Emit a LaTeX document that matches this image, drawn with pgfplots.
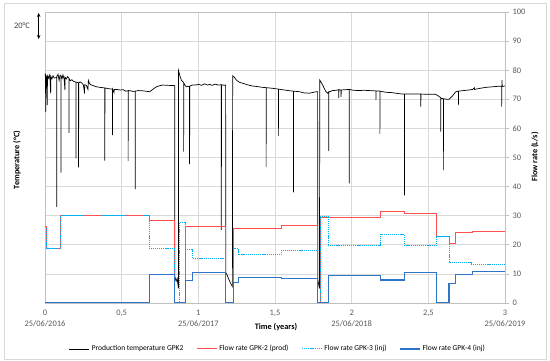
\documentclass[border=0pt]{standalone}
\usepackage{fontspec}
\setmainfont{Carlito}
\usepackage{pgfplots}
\pgfplotsset{compat=1.18}
\usetikzlibrary{arrows.meta}
\definecolor{cred}{RGB}{255,80,80}
\definecolor{ccyan}{RGB}{0,176,240}
\definecolor{cblue}{RGB}{46,117,200}
\definecolor{cgrid}{RGB}{217,217,217}
\definecolor{caxis}{RGB}{191,191,191}
\definecolor{ctext}{RGB}{89,89,89}
\begin{document}
\begin{tikzpicture}
\useasboundingbox (0,0) rectangle (550pt,361pt);
\draw[cgrid, line width=0.6pt] (4pt,2pt) rectangle (546pt,358pt);
\begin{axis}[
  at={(45pt,58pt)}, anchor=south west,
  scale only axis, width=460pt, height=291pt,
  xmin=0, xmax=3, ymin=0, ymax=100,
  xtick={0,0.5,1,1.5,2,2.5,3},
  xticklabels={{0\\25/06/2016},{0,5},{1\\25/06/2017},{1,5},{2\\25/06/2018},{2,5},{3\\25/06/2019}},
  xticklabel style={align=center, font=\fontsize{8.4}{11}\selectfont, text=ctext},
  ytick={0,10,...,100},
  yticklabel pos=right,
  yticklabel style={font=\fontsize{8.4}{10}\selectfont, text=ctext},
  /pgf/number format/assume math mode=true,
  xtick style={draw=none},
  ytick pos=right,
  ytick style={caxis, line width=0.6pt},
  tick align=outside, major tick length=4pt,
  grid=major, grid style={cgrid, line width=0.6pt},
  axis line style={caxis, line width=0.6pt},
  legend style={at={(0.5065,-0.158)}, anchor=center, draw=none, fill=none,
    legend columns=4, font=\fontsize{7.5}{9}\selectfont,
    /tikz/every even column/.append style={column sep=11pt}},
  legend cell align=left,
  legend image code/.code={\draw[#1] (0pt,0pt) -- (20pt,0pt);},
]
% Production temperature GPK2 (plotted on the flow-rate scale)
\addplot[black, line width=0.7pt] coordinates {
(0.000,78.7) (0.003,77.5) (0.005,65.7) (0.006,78.2) (0.010,77.6) (0.015,68) (0.016,78.0) (0.022,77.2) (0.028,78.3) (0.033,76.8) (0.037,72) (0.038,77.9) (0.045,77.0) (0.052,78.1) (0.060,77.3) (0.076,77.5) (0.076,33) (0.077,77.8) (0.085,78.6) (0.092,76.5) (0.098,78.2) (0.104,78.0) (0.104,44.8) (0.105,78.0) (0.112,77.2) (0.117,78.4) (0.125,76.9) (0.130,73.2) (0.131,77.6) (0.140,77.0) (0.148,77.8) (0.156,77.2) (0.156,58.5) (0.157,77.1) (0.165,76.4) (0.175,76.7) (0.185,76.2) (0.195,76.0) (0.202,75.9) (0.202,49.7) (0.203,75.9) (0.210,75.8) (0.219,75.7) (0.219,46.6) (0.220,75.6) (0.228,76.0) (0.240,75.6) (0.250,75.0) (0.258,72.0) (0.259,75.0) (0.270,74.8) (0.280,73.4) (0.283,76.5) (0.290,75.5) (0.300,75.0) (0.320,74.6) (0.336,74.3) (0.360,74.1) (0.390,73.9) (0.390,48.9) (0.391,73.9) (0.401,73.8) (0.420,73.6) (0.440,73.5) (0.440,57.7) (0.441,73.5) (0.450,72.3) (0.452,73.4) (0.466,73.4) (0.490,73.2) (0.510,73.3) (0.525,72.8) (0.542,72.9) (0.542,48.8) (0.543,73.0) (0.560,72.9) (0.575,72.7) (0.588,72.8) (0.588,39.1) (0.589,72.8) (0.610,73.0) (0.640,72.9) (0.683,72.6) (0.705,73.5) (0.727,74.3) (0.750,74.7) (0.770,74.9) (0.800,74.8) (0.846,74.7) (0.847,9) (0.855,7.5) (0.862,8.5) (0.870,5) (0.871,79.8) (0.880,78) (0.890,76.5) (0.900,76) (0.904,75.8) (0.904,52) (0.905,75.6) (0.915,74.7) (0.922,74.3) (0.943,74.5) (0.943,47.7) (0.944,74.5) (0.960,74.9) (0.987,74.9) (1.000,75.2) (1.020,74.8) (1.040,75.3) (1.060,74.9) (1.074,75.1) (1.090,74.8) (1.110,75.2) (1.130,74.9) (1.150,75) (1.150,25) (1.151,75) (1.170,74.8) (1.178,74.9) (1.179,10.5) (1.190,9.3) (1.205,7.4) (1.222,5.6) (1.224,78.1) (1.234,77.6) (1.250,76.5) (1.270,75.8) (1.290,75.5) (1.320,75.0) (1.350,74.6) (1.380,74.4) (1.420,74.1) (1.442,74.0) (1.442,46.8) (1.443,74.0) (1.480,73.8) (1.522,73.5) (1.522,57.4) (1.523,73.5) (1.560,73.2) (1.600,72.9) (1.620,72.8) (1.620,38) (1.621,72.8) (1.659,72.6) (1.690,72.2) (1.724,72.1) (1.768,72.6) (1.778,72.6) (1.779,8) (1.790,5) (1.792,76.6) (1.810,75) (1.830,72.8) (1.843,72.1) (1.850,72.5) (1.850,52.3) (1.851,72.5) (1.876,73.0) (1.900,73.1) (1.915,73.3) (1.916,70.5) (1.917,73.3) (1.930,73.2) (1.931,70.8) (1.932,73.2) (1.960,73.3) (1.984,73.4) (1.984,41.1) (1.985,73.4) (2.010,73.1) (2.050,73.0) (2.080,73.1) (2.115,73.0) (2.150,72.9) (2.158,72.9) (2.158,69.8) (2.159,72.9) (2.184,72.8) (2.184,58.1) (2.185,72.8) (2.223,72.4) (2.260,72.3) (2.300,72.0) (2.331,71.8) (2.344,71.8) (2.344,37) (2.345,71.8) (2.400,71.8) (2.451,71.8) (2.451,67.5) (2.452,71.8) (2.500,71.7) (2.548,71.7) (2.570,71.0) (2.581,70.5) (2.581,58.9) (2.582,70.4) (2.598,70.2) (2.598,45.7) (2.599,70.2) (2.620,70.0) (2.635,70.0) (2.655,71.0) (2.679,72.6) (2.696,72.8) (2.696,68) (2.697,72.8) (2.730,73.0) (2.765,73.2) (2.790,73.4) (2.800,74.0) (2.801,73.4) (2.830,73.7) (2.874,74.1) (2.920,74.3) (2.960,74.5) (2.978,74.5) (2.978,67.5) (2.980,76.6) (2.982,74.4) (3.000,74.6)
};
\addlegendentry{Production temperature GPK2}
% Flow rate GPK-2 (prod)
\addplot[cred, line width=1pt] coordinates {
(0,26.2) (0.008,26.2) (0.008,18.6) (0.104,18.6) (0.104,29.9) (0.679,29.9) (0.679,28.2) (0.846,28.2) (0.846,0) (0.914,0) (0.914,26.2) (1.178,26.2) (1.178,0) (1.23,0) (1.23,25.7) (1.54,25.7) (1.54,26.7) (1.778,26.7) (1.778,0) (1.794,0) (1.794,29.3) (2.186,29.3) (2.186,31.3) (2.342,31.3) (2.342,30.8) (2.555,30.8) (2.555,22.8) (2.638,22.8) (2.638,20.6) (2.676,20.6) (2.676,24.2) (2.787,24.2) (2.787,24.5) (3,24.5)
};
\addlegendentry{Flow rate GPK-2 (prod)}
% Flow rate GPK-3 (inj)
\addplot[ccyan, line width=1pt, dash pattern=on 1.2pt off 0.9pt] coordinates {
(0,26.2) (0.008,26.2) (0.008,18.6) (0.104,18.6) (0.104,29.9) (0.679,29.9) (0.679,18.7) (0.846,18.7) (0.846,0) (0.875,0) (0.875,27.5) (0.914,27.5) (0.914,18.4) (0.961,18.4) (0.961,15.4) (1.178,15.4) (1.178,0) (1.23,0) (1.23,18.6) (1.262,18.6) (1.262,16.5) (1.54,16.5) (1.54,18.2) (1.778,18.2) (1.778,0) (1.794,0) (1.794,29.7) (1.846,29.7) (1.846,19.6) (2.186,19.6) (2.186,23.6) (2.342,23.6) (2.342,19.9) (2.555,19.9) (2.555,22.8) (2.638,22.8) (2.638,13.8) (2.78,13.8) (2.78,13.1) (3,13.1)
};
\addlegendentry{Flow rate GPK-3 (inj)}
% Flow rate GPK-4 (inj)
\addplot[cblue, line width=1.1pt] coordinates {
(0,0) (0.679,0) (0.679,9.9) (0.846,9.9) (0.846,0) (0.914,0) (0.914,7.8) (0.961,7.8) (0.961,10.6) (1.178,10.6) (1.178,0) (1.23,0) (1.23,7.0) (1.262,7.0) (1.262,8.8) (1.54,8.8) (1.54,8.5) (1.778,8.5) (1.778,0) (1.846,0) (1.846,9.4) (2.186,9.4) (2.186,7.9) (2.342,7.9) (2.342,10.5) (2.555,10.5) (2.555,0) (2.635,0) (2.635,6.8) (2.676,6.8) (2.676,9.9) (2.787,9.9) (2.787,10.9) (3,10.9)
};
\addlegendentry{Flow rate GPK-4 (inj)}
\end{axis}
\node[rotate=90, font=\bfseries\fontsize{8.3}{10}\selectfont] at (17pt,201pt) {Temperature (°C)};
\node[rotate=90, font=\bfseries\fontsize{8.3}{10}\selectfont] at (535pt,204pt) {Flow rate (L/s)};
\node[font=\bfseries\fontsize{8.3}{10}\selectfont] at (276pt,34pt) {Time (years)};
\node[font=\fontsize{8.4}{10}\selectfont, text=ctext!70!black] at (22pt,335pt) {20°C};
\draw[{Stealth[length=4pt,width=3.5pt]}-{Stealth[length=4pt,width=3.5pt]}, line width=0.6pt] (38.7pt,348pt) -- (38.7pt,322pt);
\end{tikzpicture}
\end{document}
